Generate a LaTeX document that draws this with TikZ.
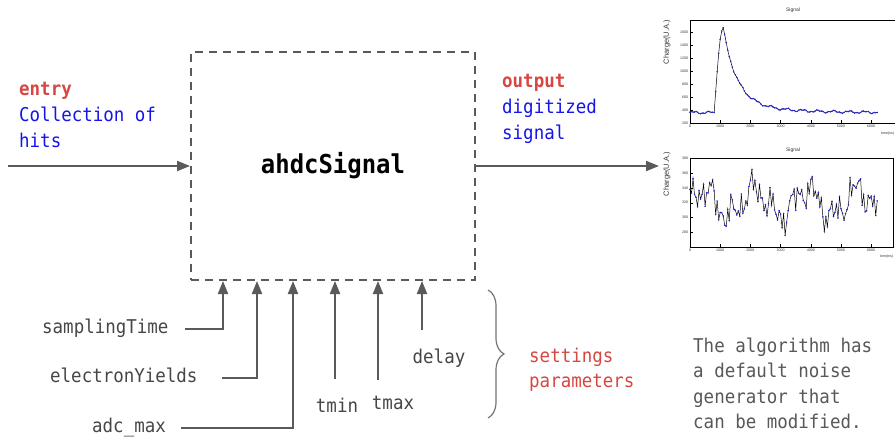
\documentclass[tikz,border=0pt]{standalone}
\usepackage{fontspec}
\setmonofont{DejaVu Sans Mono}[FakeStretch=0.92]
\setsansfont{Liberation Sans}
\usetikzlibrary{arrows.meta,decorations.pathreplacing}

\definecolor{wiregray}{RGB}{90,90,90}
\definecolor{labelgray}{RGB}{70,70,70}
\definecolor{notegray}{RGB}{88,88,88}
\definecolor{inred}{RGB}{214,70,66}
\definecolor{inblue}{RGB}{20,20,235}
\definecolor{markblue}{RGB}{40,40,210}

\begin{document}
\begin{tikzpicture}[x=1pt, y=-1pt,
  >={Triangle[length=13pt,width=10pt]},
  wire/.style={line width=2pt, draw=wiregray},
  txt/.style={font=\ttfamily\fontsize{19}{22}\selectfont, anchor=base west, inner sep=0pt},
  param/.style={txt, text=labelgray, anchor=west, text height=13pt, text depth=4pt},
  plt/.style={font=\sffamily\fontsize{3.6}{4}\selectfont, inner sep=0.6pt, text=black!80},
  declare function={
    pulse(\t) = 360 + 15*sin(0.7*\t) + 8*sin(1.9*\t+30)
      + (\t>800)*(\t<1100)*1300*sin(0.3*(\t-800))
      + (\t>=1100)*(1150*exp(-(max(\t,1100)-1100)/450) + 150*exp(-(max(\t,1100)-1100)/1500));
    noise(\t) = 320 + 18*sin(0.21*\t) + 12*sin(0.53*\t+70) + 9*sin(1.1*\t+20)
      + 7*sin(2.3*\t+150) + 9*sin(4.09*mod(\t,88));
  }]
\useasboundingbox (0,0) rectangle (895,439);

% Main block
\node[draw=wiregray, line width=2pt, dash pattern=on 8pt off 6pt,
      minimum width=284pt, minimum height=228pt,
      font=\ttfamily\bfseries\fontsize{26}{30}\selectfont] (sig) at (333,166) {ahdcSignal};

% Entry side
\node[txt, text=inred] (entry) at (19,95) {\bfseries entry};
\node[txt, text=inblue] (entry1) at (19,121) {Collection of};
\node[txt, text=inblue] (entry2) at (19,147) {hits};
\coordinate (src) at (8,166);
\draw[wire, ->] (src) -- (sig.west);

% Output side
\node[txt, text=inred] (out) at (502,87) {\bfseries output};
\node[txt, text=inblue] (out1) at (502,113) {digitized};
\node[txt, text=inblue] (out2) at (502,139) {signal};
\coordinate (dst) at (659,166);
\draw[wire, ->] (sig.east) -- (dst);

% Inputs on the bottom edge
\foreach \n/\x in {1/223,2/257,3/293,4/335,5/378,6/422}
  \coordinate (s\n) at (\x,281);

\node[param] (samp) at (42,329) {samplingTime};
\node[param] (elec) at (50,378) {electronYields};
\node[param] (adc) at (92,428) {adc\_max};
\node[param, anchor=base] (tmin) at (337,412) {tmin};
\node[param, anchor=base] (tmax) at (393,409) {tmax};
\node[param, anchor=base] (delay) at (439,363) {delay};

\draw[wire, ->] ([xshift=16pt]samp.east) -| (s1);
\draw[wire, ->] ([xshift=24pt]elec.east) -| (s2);
\draw[wire, ->] ([xshift=15pt]adc.east) -| (s3);
\draw[wire, ->, shorten <=20pt] (s4 |- tmin.north) -- (s4);
\draw[wire, ->, shorten <=16pt] (s5 |- tmax.north) -- (s5);
\draw[wire, ->, shorten <=20pt] (s6 |- delay.north) -- (s6);

% Brace and settings
\draw[draw=black!55, line width=1.2pt, decorate, decoration={brace, amplitude=16pt}]
  (488,290) -- (488,418);
\node[txt, text=inred] (set1) at (529,362) {settings};
\node[txt, text=inred] (set2) at (529,387) {parameters};

% Note on noise
\node[txt, text=notegray] (note1) at (693,352) {The algorithm has};
\node[txt, text=notegray] (note2) at (693,377.5) {a default noise};
\node[txt, text=notegray] (note3) at (693,403) {generator that};
\node[txt, text=notegray] (note4) at (693,428) {can be modified.};

% Upper plot: signal with pulse
\node[plt, font=\sffamily\fontsize{5}{6}\selectfont] (tit1) at (793,10) {Signal};
\node[plt, font=\sffamily\fontsize{7.5}{8}\selectfont, rotate=90] (ylab1) at (667,42) {Charge(U.A.)};
\node[plt, anchor=east] (xlab1) at (895,134) {time(ns)};
\draw[line width=0.6pt] (690,20) rectangle (895,123);
\foreach \v in {200,400,...,1600} {
  \draw[line width=0.4pt] (690,{123-0.065*(\v-200)}) -- ++(3,0);
  \node[plt, anchor=east] (ya\v) at (689,{123-0.065*(\v-200)}) {\v};
}
\foreach \t in {0,1000,...,6000} {
  \draw[line width=0.4pt] ({690+0.0302*\t},123) -- ++(0,-3);
  \node[plt, anchor=north] (xa\t) at ({690+0.0302*\t},124) {\t};
}
\draw[line width=0.5pt, mark=*, mark size=0.5pt, mark options={draw=markblue, fill=markblue}]
  plot[domain=0:6200, samples=125] ({690+0.0302*\x}, {123-0.065*(pulse(\x)-200)});

% Lower plot: noise only
\node[plt, font=\sffamily\fontsize{5}{6}\selectfont] (tit2) at (793,150) {Signal};
\node[plt, font=\sffamily\fontsize{7.5}{8}\selectfont, rotate=90] (ylab2) at (667,174) {Charge(U.A.)};
\node[plt, anchor=east] (xlab2) at (894,257) {time(ns)};
\draw[line width=0.6pt] (690,158) rectangle (893,247);
\foreach \v in {280,300,...,380} {
  \draw[line width=0.4pt] (690,{202.7-0.735*(\v-320)}) -- ++(3,0);
  \node[plt, anchor=east] (yb\v) at (689,{202.7-0.735*(\v-320)}) {\v};
}
\foreach \t in {0,1000,...,6000} {
  \draw[line width=0.4pt] ({690+0.0302*\t},247) -- ++(0,-3);
  \node[plt, anchor=north] (xb\t) at ({690+0.0302*\t},248) {\t};
}
\draw[line width=0.5pt, mark=*, mark size=0.5pt, mark options={draw=markblue, fill=markblue}]
  plot[domain=0:6200, samples=125] ({690+0.0302*\x}, {202.7-0.735*(noise(\x)-320)});
\end{tikzpicture}
\end{document}
